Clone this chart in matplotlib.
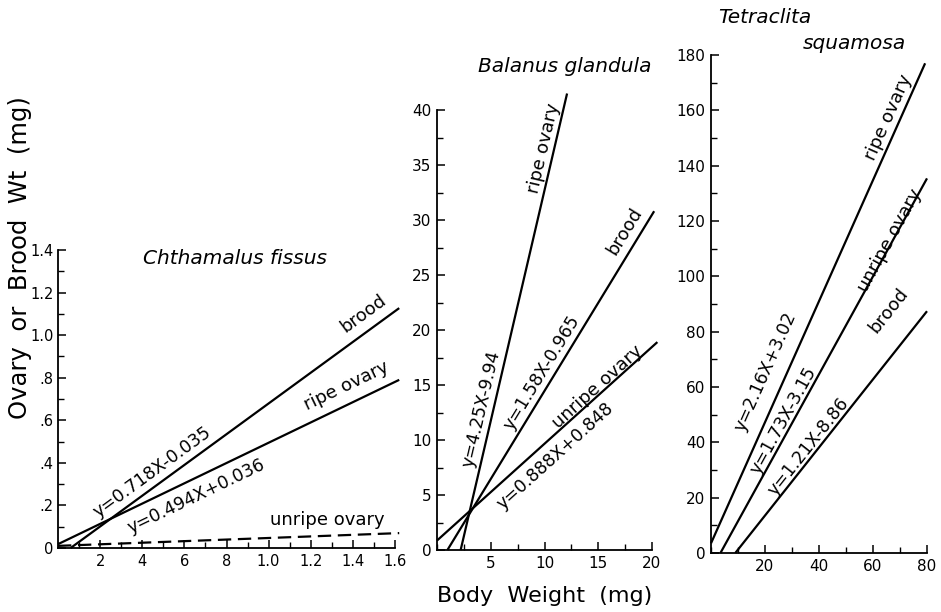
import numpy as np
import matplotlib
matplotlib.use("Agg")
import matplotlib.pyplot as plt
from matplotlib.ticker import MultipleLocator, FixedLocator, FixedFormatter

# Regression lines of ovary / brood weight against body weight for
# three barnacle species, redrawn from a printed figure.

# Chthamalus fissus
cf_names = ["brood", "ripe ovary", "unripe ovary"]
cf_eqs = ["y=0.718X-0.035", "y=0.494X+0.036", ""]
cf_x0 = [0.06, 0.0, 0.0]
cf_y0 = [0.0, 0.018, 0.01]
cf_x1 = [1.62, 1.62, 1.62]
cf_y1 = [1.127, 0.79, 0.07]
cf_xticks = [0.2, 0.4, 0.6, 0.8, 1.0, 1.2, 1.4, 1.6]
cf_xlabels = ["2", "4", "6", "8", "1.0", "1.2", "1.4", "1.6"]
cf_yticks = [0, 0.2, 0.4, 0.6, 0.8, 1.0, 1.2, 1.4]
cf_ylabels = ["0", ".2", ".4", ".6", ".8", "1.0", "1.2", "1.4"]

# Balanus glandula
bg_names = ["ripe ovary", "brood", "unripe ovary"]
bg_eqs = ["y=4.25X-9.94", "y=1.58X-0.965", "y=0.888X+0.848"]
bg_x0 = [2.2, 0.97, 0.0]
bg_y0 = [0.0, 0.0, 0.86]
bg_x1 = [12.1, 20.2, 20.5]
bg_y1 = [41.5, 30.8, 18.9]
bg_xticks = [5, 10, 15, 20]
bg_yticks = [0, 5, 10, 15, 20, 25, 30, 35, 40]

# Tetraclita squamosa
ts_names = ["ripe ovary", "unripe ovary", "brood"]
ts_eqs = ["y=2.16X+3.02", "y=1.73X-3.15", "y=1.21X-8.86"]
ts_x0 = [0.0, 3.5, 9.0]
ts_y0 = [3.5, 0.0, 0.0]
ts_x1 = [79.3, 80.0, 80.0]
ts_y1 = [177.0, 135.4, 87.4]
ts_xticks = [20, 40, 60, 80]
ts_yticks = [0, 20, 40, 60, 80, 100, 120, 140, 160, 180]

plt.rcParams["font.family"] = ["DejaVu Sans"]

fig = plt.figure(figsize=(9.41, 6.12), dpi=100)


def setup(ax, xlim, ylim, xmin, ymin, size=11):
    ax.set_xlim(*xlim)
    ax.set_ylim(*ylim)
    for s in ("top", "right"):
        ax.spines[s].set_visible(False)
    for s in ("left", "bottom"):
        ax.spines[s].set_linewidth(1.3)
    ax.xaxis.set_minor_locator(MultipleLocator(xmin))
    ax.yaxis.set_minor_locator(MultipleLocator(ymin))
    ax.tick_params(which="major", direction="in", length=6, width=1.1,
                   labelsize=size, pad=4)
    ax.tick_params(which="minor", direction="in", length=4, width=1.0)
    ax.patch.set_alpha(0)


def line_angle(ax, x0, y0, x1, y1):
    p = ax.transData.transform([(x0, y0), (x1, y1)])
    d = p[1] - p[0]
    return np.degrees(np.arctan2(d[1], d[0]))


def draw_lines(ax, x0, y0, x1, y1, styles=None):
    angs = []
    for i in range(len(x0)):
        ls = styles[i] if styles else "-"
        ax.plot([x0[i], x1[i]], [y0[i], y1[i]], color="black", lw=1.6,
                ls=ls, dashes=(6, 3) if ls == "--" else (None, None),
                clip_on=False, solid_capstyle="butt")
        angs.append(line_angle(ax, x0[i], y0[i], x1[i], y1[i]))
    return angs


def put(ax, x, y, s, ang, size=12.5):
    ax.text(x, y, s, rotation=ang, rotation_mode="anchor", ha="center",
            va="center", fontsize=size, clip_on=False)


# --- Chthamalus fissus ---
ax1 = fig.add_axes([58 / 941, 1 - 548 / 612, 337 / 941, 298 / 612])
setup(ax1, (0, 1.6), (0, 1.4), 0.1, 0.1, size=10.5)
ax1.tick_params(axis="y", which="major", pad=3)
ax1.xaxis.set_major_locator(FixedLocator(cf_xticks))
ax1.xaxis.set_major_formatter(FixedFormatter(cf_xlabels))
ax1.yaxis.set_major_locator(FixedLocator(cf_yticks))
ax1.yaxis.set_major_formatter(FixedFormatter(cf_ylabels))
a = draw_lines(ax1, cf_x0, cf_y0, cf_x1, cf_y1, ["-", "-", "--"])
put(ax1, 1.45, 1.10, cf_names[0], a[0], 13)
put(ax1, 1.37, 0.76, cf_names[1], a[1], 13)
put(ax1, 1.28, 0.13, cf_names[2], 0, 13)
put(ax1, 0.446, 0.357, cf_eqs[0], a[0])
put(ax1, 0.655, 0.244, cf_eqs[1], a[1])
ax1.text(0.84, 1.36, "Chthamalus fissus", style="italic", fontsize=14.5,
         ha="center", va="center")

# --- Balanus glandula ---
ax2 = fig.add_axes([437 / 941, 1 - 550 / 612, 215 / 941, 440 / 612])
setup(ax2, (0, 20), (0, 40), 2.5, 2.5)
ax2.set_xticks(bg_xticks)
ax2.set_yticks(bg_yticks)
a = draw_lines(ax2, bg_x0, bg_y0, bg_x1, bg_y1)
put(ax2, 9.9, 36.5, bg_names[0], a[0], 13)
put(ax2, 17.5, 29.0, bg_names[1], a[1], 13)
put(ax2, 14.9, 14.8, bg_names[2], a[2], 13)
put(ax2, 4.16, 12.8, bg_eqs[0], a[0])
put(ax2, 9.74, 16.1, bg_eqs[1], a[1])
put(ax2, 11.0, 8.5, bg_eqs[2], a[2])
ax2.text(11.9, 44.0, "Balanus glandula", style="italic", fontsize=14.5,
         ha="center", va="center")

# --- Tetraclita squamosa ---
ax3 = fig.add_axes([711 / 941, 1 - 553 / 612, 216 / 941, 498 / 612])
setup(ax3, (0, 80), (0, 180), 10, 10)
ax3.set_xticks(ts_xticks)
ax3.set_yticks(ts_yticks)
a = draw_lines(ax3, ts_x0, ts_y0, ts_x1, ts_y1)
put(ax3, 65.7, 157.3, ts_names[0], a[0], 13)
put(ax3, 66.3, 113.0, ts_names[1], a[1], 13)
put(ax3, 65.7, 87.5, ts_names[2], a[2], 13)
put(ax3, 20.0, 65.7, ts_eqs[0], a[0])
put(ax3, 26.8, 48.0, ts_eqs[1], a[1])
put(ax3, 36.0, 38.3, ts_eqs[2], a[2])
ax3.text(20.0, 193.5, "Tetraclita", style="italic", fontsize=14.5,
         ha="center", va="center")
ax3.text(53.0, 184.0, "squamosa", style="italic", fontsize=14.5,
         ha="center", va="center")

fig.text(545 / 941, 1 - 596 / 612, "Body  Weight  (mg)", fontsize=16,
         ha="center", va="center")
fig.text(20 / 941, 1 - 258 / 612, "Ovary  or  Brood  Wt  (mg)",
         fontsize=17.5, rotation=90, ha="center", va="center")

fig.savefig("out.png", dpi=100)
